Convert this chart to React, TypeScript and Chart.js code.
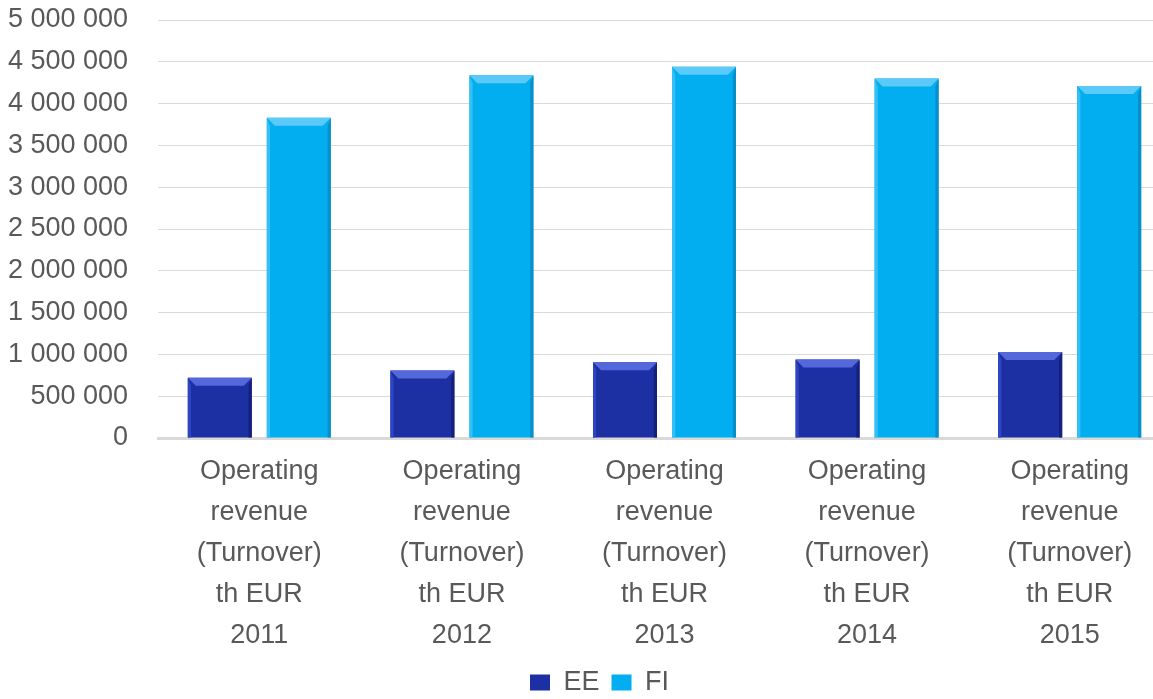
import React, { useEffect, useRef } from "react";
import { Chart, registerables } from "chart.js";

Chart.register(...registerables);

const categories: string[][] = [
  ["Operating", "revenue", "(Turnover)", "th EUR", "2011"],
  ["Operating", "revenue", "(Turnover)", "th EUR", "2012"],
  ["Operating", "revenue", "(Turnover)", "th EUR", "2013"],
  ["Operating", "revenue", "(Turnover)", "th EUR", "2014"],
  ["Operating", "revenue", "(Turnover)", "th EUR", "2015"],
];
const eeValues = [720000, 808000, 905000, 940000, 1030000];
const fiValues = [3830000, 4340000, 4440000, 4300000, 4210000];
const seriesNames = ["EE", "FI"];
const yMax = 5000000;
const yStep = 500000;

const FONT = "'Liberation Sans Narrow', 'Arial Narrow', 'Liberation Sans', sans-serif";

const bevelStyles = [
  { body: "#1c2fa3", top: "#5468dc", left: "#2f44c0", right: "#14207a" },
  { body: "#02aeef", top: "#5ccaf8", left: "#33c0f6", right: "#0a8ec9" },
];

const bevelPlugin = {
  id: "bevel",
  afterLayout(chart: any) {
    if (chart.legend) {
      chart.legend.top += 7;
      chart.legend.bottom += 7;
      chart.legend.left += 14;
      chart.legend.right += 14;
      if (chart.legend.legendHitBoxes) {
        chart.legend.legendHitBoxes.forEach((h: any) => {
          h.left += 14;
          h.top += 7;
        });
      }
    }
  },
  afterDatasetsDraw(chart: any) {
    const ctx = chart.ctx;
    chart.data.datasets.forEach((_: any, di: number) => {
      const meta = chart.getDatasetMeta(di);
      const st = bevelStyles[di];
      meta.data.forEach((bar: any) => {
        const p = bar.getProps(["x", "y", "base", "width"], true);
        const l = p.x - p.width / 2;
        const r = p.x + p.width / 2;
        const t = p.y;
        const b = p.base;
        const bv = Math.min(8, (b - t) / 3);
        ctx.save();
        ctx.fillStyle = st.top;
        ctx.beginPath();
        ctx.moveTo(l, t);
        ctx.lineTo(r, t);
        ctx.lineTo(r - bv, t + bv);
        ctx.lineTo(l + bv, t + bv);
        ctx.closePath();
        ctx.fill();
        ctx.fillStyle = st.left;
        ctx.beginPath();
        ctx.moveTo(l, t);
        ctx.lineTo(l + bv * 0.4, t + bv);
        ctx.lineTo(l + bv * 0.4, b);
        ctx.lineTo(l, b);
        ctx.closePath();
        ctx.fill();
        ctx.fillStyle = st.right;
        ctx.beginPath();
        ctx.moveTo(r, t);
        ctx.lineTo(r - bv * 0.4, t + bv);
        ctx.lineTo(r - bv * 0.4, b);
        ctx.lineTo(r, b);
        ctx.closePath();
        ctx.fill();
        ctx.restore();
      });
    });
  },
};

export default function App() {
  const ref = useRef<HTMLCanvasElement>(null);
  useEffect(() => {
    if (!ref.current) return;
    const chart = new Chart(ref.current, {
      type: "bar",
      data: {
        labels: categories,
        datasets: [
          {
            label: seriesNames[0],
            data: eeValues,
            backgroundColor: bevelStyles[0].body,
            categoryPercentage: 0.78,
            barPercentage: 0.81,
          },
          {
            label: seriesNames[1],
            data: fiValues,
            backgroundColor: bevelStyles[1].body,
            categoryPercentage: 0.78,
            barPercentage: 0.81,
          },
        ],
      },
      options: {
        responsive: false,
        animation: false,
        layout: { padding: { top: 20, left: 0, right: 0, bottom: 0 } },
        scales: {
          y: {
            min: 0,
            max: yMax,
            afterFit: (axis: any) => {
              axis.width = 158;
            },
            ticks: {
              stepSize: yStep,
              padding: 0,
              color: "#595959",
              font: { family: FONT, size: 27 },
              callback: (v: any) =>
                Number(v)
                  .toString()
                  .replace(/\B(?=(\d{3})+(?!\d))/g, " "),
            },
            grid: {
              color: "#d9d9d9",
              lineWidth: 1,
              drawTicks: true,
              tickLength: 30,
              tickColor: "rgba(0,0,0,0)",
            },
            border: { display: false },
          },
          x: {
            afterFit: (axis: any) => {
              axis.height = 212;
            },
            ticks: {
              color: "#595959",
              font: { family: FONT, size: 27, lineHeight: 1.52 },
              padding: 13,
              maxRotation: 0,
              autoSkip: false,
            },
            grid: { display: false, drawTicks: false },
            border: { display: true, color: "#d9d9d9", width: 3 },
          },
        },
        plugins: {
          legend: {
            position: "bottom",
            labels: {
              color: "#595959",
              font: { family: FONT, size: 27 },
              boxWidth: 20,
              boxHeight: 16,
              padding: 12,
            },
          },
          tooltip: { enabled: false },
        },
      },
      plugins: [bevelPlugin],
    });
    return () => chart.destroy();
  }, []);
  return (
    <div
      style={{
        position: "fixed",
        left: 0,
        top: 0,
        width: 1153,
        height: 699,
        overflow: "hidden",
        background: "#fff",
      }}
    >
      <canvas ref={ref} width={1171} height={699} style={{ display: "block" }} />
    </div>
  );
}
